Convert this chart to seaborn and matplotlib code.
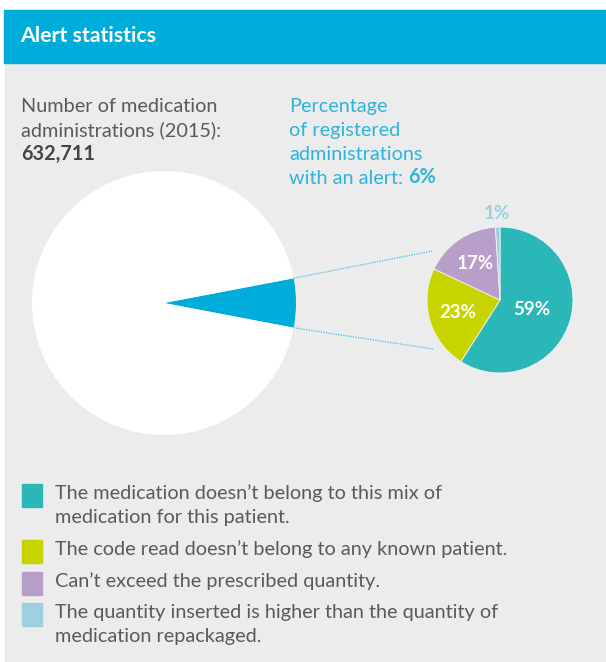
import matplotlib
matplotlib.use("Agg")
import numpy as np
import seaborn as sns
import matplotlib.pyplot as plt
from matplotlib.patches import Rectangle

# data
total_share = [6, 94]                      # alert vs no alert (%)
alert_types = [
    "The medication doesn\u2019t belong to this mix of\nmedication for this patient.",
    "The code read doesn\u2019t belong to any known patient.",
    "Can\u2019t exceed the prescribed quantity.",
    "The quantity inserted is higher than the quantity of\nmedication repackaged.",
]
alert_share = [59, 23, 17, 1]
alert_labels = ["59%", "23%", "17%", "1%"]
alert_colors = ["#2bb7b8", "#c8d400", "#b89fca", "#9ecfdf"]
n_admin = "632,711"

sns.set_theme(style="white")
plt.rcParams["font.family"] = ["Lato", "DejaVu Sans"]

W, H = 606, 662
fig = plt.figure(figsize=(W / 100, H / 100), dpi=100)
ax = fig.add_axes([0, 0, 1, 1])


def Y(py):
    # picture rows run downwards
    return H - py


GRAY = "#ececec"
BLUE = "#00acd9"
TXT = "#5a5a5a"
CYAN = "#2eb3da"
FS = 14.3
LINE = 24

# panel + header band
ax.add_patch(Rectangle((5, 0), W - 5, Y(10), color=GRAY, zorder=0))
ax.add_patch(Rectangle((4, Y(63)), W - 4, 53, color=BLUE, zorder=1))
ax.text(20, Y(42), "Alert statistics", color="white", fontsize=15.3,
        fontweight="bold", va="baseline", ha="left", zorder=2)

# big pie (all administrations)
big_c, big_r = (164, Y(303)), 132
half = total_share[0] / 100 * 360 / 2
big_w, _ = ax.pie(total_share, colors=[BLUE, "white"], startangle=-half,
                  center=big_c, radius=big_r, frame=True,
                  wedgeprops=dict(linewidth=0))

# small pie (alert types)
small_c, small_r = (500, Y(300)), 73
small_w, _ = ax.pie(alert_share, colors=alert_colors, startangle=90,
                    counterclock=False, center=small_c, radius=small_r,
                    frame=True, wedgeprops=dict(linewidth=0.6, edgecolor="#f4f4f4"))

label_dist = [0.45, 0.6, 0.6, 1.18]
label_cols = ["white", "white", "white", alert_colors[3]]
for w, lab, d, c in zip(small_w, alert_labels, label_dist, label_cols):
    a = np.deg2rad((w.theta1 + w.theta2) / 2)
    ax.text(small_c[0] + d * small_r * np.cos(a), small_c[1] + d * small_r * np.sin(a),
            lab, color=c, fontsize=13.5, fontweight="bold", ha="center", va="center")

# dotted connectors from the alert wedge to the breakdown pie
ends = [(432, Y(251)), (433, Y(349))]
for ang, end in zip([half, -half], ends):
    a = np.deg2rad(ang)
    x0 = big_c[0] + big_r * np.cos(a)
    y0 = big_c[1] + big_r * np.sin(a)
    ax.plot([x0, end[0]], [y0, end[1]], color="#3fbfe0", lw=0.9, ls=(0, (1, 1)))


def lines(x, base, text, **kw):
    # one text per line so every baseline sits on the 24px grid
    out = []
    for i, s in enumerate(text.split("\n")):
        out.append(ax.text(x, Y(base + i * LINE), s, fontsize=FS,
                           va="baseline", ha="left", **kw))
    return out


# header texts
lines(21, 112, "Number of medication\nadministrations (2015):", color=TXT)
lines(21, 160, n_admin, color="#454545", fontweight="bold")
t = lines(289, 112, "Percentage\nof registered\nadministrations\nwith an alert: ", color=CYAN)[-1]
ax.annotate(f"{total_share[0]}%", xycoords=t, xy=(1, 0), va="bottom", ha="left",
            color=CYAN, fontsize=FS, fontweight="bold")

# legend
rows = [499, 555, 587, 618]
for yy, col, txt in zip(rows, alert_colors, alert_types):
    ax.add_patch(Rectangle((22, Y(yy + 8)), 20, 23, color=col))
    lines(55, yy, txt, color=TXT)

ax.set_xlim(0, W)
ax.set_ylim(0, H)
ax.set_aspect("equal")
ax.axis("off")
fig.savefig("out.png", dpi=100, facecolor="white")
